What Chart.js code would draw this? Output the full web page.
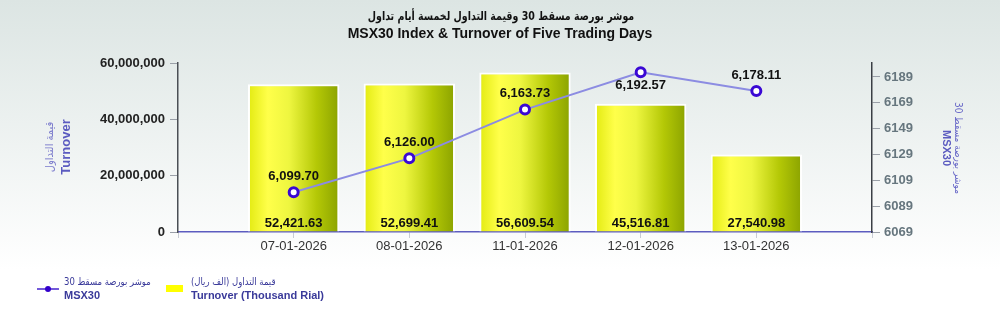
<!DOCTYPE html>
<html>
<head>
<meta charset="utf-8">
<script src="https://cdn.jsdelivr.net/npm/chart.js@4.4.1/dist/chart.umd.min.js"></script>
<style>
  html, body { margin: 0; padding: 0; background: #fff; }
  #wrap { width: 1000px; height: 319px; position: relative; }
</style>
</head>
<body>
<div id="wrap"><canvas id="msxChart" width="1000" height="319"></canvas></div>
<script>
const tradeDates = ['07-01-2026', '08-01-2026', '11-01-2026', '12-01-2026', '13-01-2026'];
const turnover = [52421630, 52699410, 56609540, 45516810, 27540980];
const msx30 = [6099.70, 6126.00, 6163.73, 6192.57, 6178.11];
const leftTicks = [0, 20000000, 40000000, 60000000];
const rightTicks = [6069, 6089, 6109, 6129, 6149, 6169, 6189];

const AR = '"DejaVu Sans", "Noto Sans", sans-serif';
const EN = '"Liberation Sans", Arial, sans-serif';

// empty slot on both ends so the dates sit like in the original
const labels = [''].concat(tradeDates, ['']);
const barData = [null].concat(turnover, [null]);
const lineData = [null].concat(msx30, [null]);

function fmt(v, d) {
  return v.toLocaleString('en-US', { minimumFractionDigits: d, maximumFractionDigits: d });
}

// arabic text, squeezed a little horizontally (DejaVu is wide)
function arText(ctx, str, x, y, sx) {
  ctx.save();
  ctx.translate(x, y);
  ctx.scale(sx, 1);
  ctx.direction = 'rtl';
  ctx.fillText(str, 0, 0);
  ctx.restore();
}

function barGradient(context) {
  const chart = context.chart;
  if (!chart.chartArea || !chart.scales.x) return '#e8f020';
  const x = chart.scales.x.getPixelForValue(context.dataIndex);
  const w = 46;
  const g = chart.ctx.createLinearGradient(x - w, 0, x + w, 0);
  g.addColorStop(0, '#e2ea10');
  g.addColorStop(0.22, '#ffff4a');
  g.addColorStop(0.45, '#eef640');
  g.addColorStop(0.75, '#b4c806');
  g.addColorStop(1, '#8aa200');
  return g;
}

const decor = {
  id: 'decor',
  beforeDraw(chart) {
    const ctx = chart.ctx;
    const g = ctx.createLinearGradient(0, 0, 0, 270);
    g.addColorStop(0, '#dce5e3');
    g.addColorStop(1, '#ffffff');
    ctx.save();
    ctx.fillStyle = g;
    ctx.fillRect(0, 0, chart.width, chart.height);
    ctx.restore();
  },
  afterDraw(chart) {
    const ctx = chart.ctx;
    ctx.save();
    ctx.textBaseline = 'middle';

    // title
    ctx.fillStyle = '#111';
    ctx.textAlign = 'center';
    ctx.font = 'bold 12px ' + AR;
    arText(ctx, 'موشر بورصة مسقط 30 وقيمة التداول لخمسة أيام تداول', 501, 17, 0.79);
    ctx.direction = 'ltr';
    ctx.font = 'bold 14px ' + EN;
    ctx.fillText('MSX30 Index & Turnover of Five Trading Days', 500, 34);

    // left axis title
    ctx.save();
    ctx.translate(58, 147);
    ctx.rotate(-Math.PI / 2);
    ctx.fillStyle = '#7a7acc';
    ctx.font = '11px ' + AR;
    arText(ctx, 'قيمة التداول', 0, -8, 0.9);
    ctx.fillStyle = '#5b5bc0';
    ctx.font = 'bold 13px ' + EN;
    ctx.fillText('Turnover', 0, 8);
    ctx.restore();

    // right axis title
    ctx.save();
    ctx.translate(952, 148);
    ctx.rotate(Math.PI / 2);
    ctx.fillStyle = '#6a6ac8';
    ctx.font = '10px ' + AR;
    arText(ctx, 'موشر بورصة مسقط 30', 0, -6, 0.9);
    ctx.fillStyle = '#5b5bc0';
    ctx.font = 'bold 11px ' + EN;
    ctx.fillText('MSX30', 0, 6);
    ctx.restore();

    // legend
    ctx.strokeStyle = '#4422cc';
    ctx.lineWidth = 1.5;
    ctx.beginPath();
    ctx.moveTo(37, 289);
    ctx.lineTo(59, 289);
    ctx.stroke();
    ctx.fillStyle = '#3300cc';
    ctx.beginPath();
    ctx.arc(48, 289, 3, 0, Math.PI * 2);
    ctx.fill();
    ctx.fillStyle = '#ffff00';
    ctx.fillRect(166, 285, 17, 7);

    ctx.textAlign = 'left';
    ctx.fillStyle = '#3a3a9a';
    ctx.font = '10px ' + AR;
    arText(ctx, 'موشر بورصة مسقط 30', 64, 282, 0.85);
    arText(ctx, 'قيمة التداول (الف ريال)', 191, 282, 0.85);
    ctx.direction = 'ltr';
    ctx.font = 'bold 11px ' + EN;
    ctx.fillText('MSX30', 64, 296);
    ctx.fillText('Turnover (Thousand Rial)', 191, 296);
    ctx.restore();
  },
  afterDatasetsDraw(chart) {
    const ctx = chart.ctx;
    const area = chart.chartArea;
    ctx.save();
    ctx.fillStyle = '#111';
    ctx.textAlign = 'center';
    ctx.textBaseline = 'middle';
    ctx.font = 'bold 13px ' + EN;
    chart.getDatasetMeta(1).data.forEach((bar, i) => {
      const v = barData[i];
      if (v == null) return;
      ctx.fillText(fmt(v / 1000, 2), bar.x, area.bottom - 9);
    });
    chart.getDatasetMeta(0).data.forEach((pt, i) => {
      const v = lineData[i];
      if (v == null) return;
      const y = pt.y - 28 < area.top ? pt.y + 13 : pt.y - 16;
      ctx.fillText(fmt(v, 2), pt.x, y);
    });
    ctx.restore();
  }
};

new Chart(document.getElementById('msxChart'), {
  type: 'bar',
  data: {
    labels: labels,
    datasets: [
      {
        type: 'line',
        label: 'MSX30',
        data: lineData,
        yAxisID: 'y1',
        order: 1,
        borderColor: '#8c8ce2',
        borderWidth: 2,
        pointRadius: 4.5,
        pointBorderWidth: 3,
        pointBorderColor: '#3a08d4',
        pointBackgroundColor: '#ffffff',
        spanGaps: false,
        tension: 0
      },
      {
        label: 'Turnover (Thousand Rial)',
        data: barData,
        yAxisID: 'y',
        order: 2,
        backgroundColor: barGradient,
        borderColor: '#ffffff',
        borderWidth: 2,
        categoryPercentage: 1,
        barPercentage: 0.79
      }
    ]
  },
  options: {
    responsive: false,
    animation: false,
    layout: { padding: { left: 0, right: 0, top: 63, bottom: 57 } },
    plugins: {
      legend: { display: false },
      tooltip: { enabled: false }
    },
    scales: {
      x: {
        offset: false,
        grid: { offset: false, drawOnChartArea: false, color: '#c8ccd4', tickLength: 6 },
        border: { color: '#5c5cc0', width: 1.5 },
        ticks: {
          color: '#333',
          padding: 1,
          maxRotation: 0,
          autoSkip: false,
          font: { family: EN, size: 13 }
        },
        afterFit(scale) { scale.height = 30; }
      },
      y: {
        position: 'left',
        min: 0,
        max: 60000000,
        grid: { drawOnChartArea: false, color: '#9aa0a8', tickLength: 8 },
        border: { color: '#4a4f55', width: 1.5 },
        ticks: {
          color: '#222',
          padding: 5,
          font: { family: EN, size: 13, weight: 'bold' },
          callback: v => v.toLocaleString('en-US')
        },
        afterBuildTicks(scale) { scale.ticks = leftTicks.map(v => ({ value: v })); },
        afterFit(scale) { scale.width = 178; }
      },
      y1: {
        position: 'right',
        min: 6069,
        max: 6199.8,
        grid: { drawOnChartArea: false, color: '#9aa0a8', tickLength: 8 },
        border: { color: '#3a3f45', width: 1.5 },
        ticks: {
          color: '#66767e',
          padding: 4,
          font: { family: EN, size: 13, weight: 'bold' },
          callback: v => String(v)
        },
        afterBuildTicks(scale) { scale.ticks = rightTicks.map(v => ({ value: v })); },
        afterFit(scale) { scale.width = 128; }
      }
    }
  },
  plugins: [decor]
});
</script>
</body>
</html>
